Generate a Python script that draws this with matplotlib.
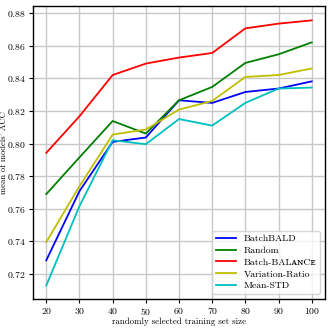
import matplotlib
matplotlib.use("Agg")
import matplotlib.pyplot as plt

sizes = [20, 30, 40, 50, 60, 70, 80, 90, 100]
batchbald = [0.7284, 0.7708, 0.8010, 0.8037, 0.8265, 0.8249, 0.8316, 0.8337, 0.8381]
random_acc = [0.7690, 0.7915, 0.8138, 0.8061, 0.8265, 0.8347, 0.8494, 0.8547, 0.8620]
balance = [0.7943, 0.8167, 0.8420, 0.8490, 0.8527, 0.8555, 0.8706, 0.8735, 0.8755]
var_ratio = [0.7396, 0.7738, 0.8055, 0.8086, 0.8208, 0.8261, 0.8408, 0.8420, 0.8460]
mean_std = [0.7130, 0.7616, 0.8020, 0.7996, 0.8150, 0.8110, 0.8249, 0.8337, 0.8343]

series = [
    ("BatchBALD", batchbald, "#0000ff"),
    ("Random", random_acc, "#008000"),
    ("Batch-BAL\u1d00\u0274C\u1d07", balance, "#ff0000"),
    ("Variation-Ratio", var_ratio, "#bfbf00"),
    ("Mean-STD", mean_std, "#00bfbf"),
]

plt.rcParams["font.family"] = ["cmr10", "DejaVu Serif"]
plt.rcParams["axes.formatter.use_mathtext"] = True
plt.rcParams["mathtext.fontset"] = "cm"

fig = plt.figure(figsize=(3.32, 3.32), dpi=100)
ax = fig.add_axes([0.0994, 0.0994, 0.8795, 0.8825])
for name, vals, col in series:
    ax.plot(sizes, vals, color=col, lw=1.3, label=name)

ax.set_xticks(sizes)
ax.set_yticks([0.72, 0.74, 0.76, 0.78, 0.80, 0.82, 0.84, 0.86, 0.88])
ax.set_ylim(0.7047, 0.8843)
ax.grid(True, color="#c8c8c8", lw=1.0)
ax.set_axisbelow(True)
ax.tick_params(labelsize=7, length=3, width=0.8, pad=2)
ax.set_xlabel("randomly selected training set size", fontsize=6.4)
ax.set_ylabel("mean of models' ACC", fontsize=6.2)
ax.xaxis.set_label_coords(0.5, -0.062)
ax.yaxis.set_label_coords(-0.085, 0.5)
for s in ax.spines.values():
    s.set_linewidth(1.0)
ax.legend(loc="lower right", fontsize=7, handlelength=2.0, framealpha=0.8,
          borderpad=0.4, labelspacing=0.3)

fig.savefig("out.png", dpi=100)
